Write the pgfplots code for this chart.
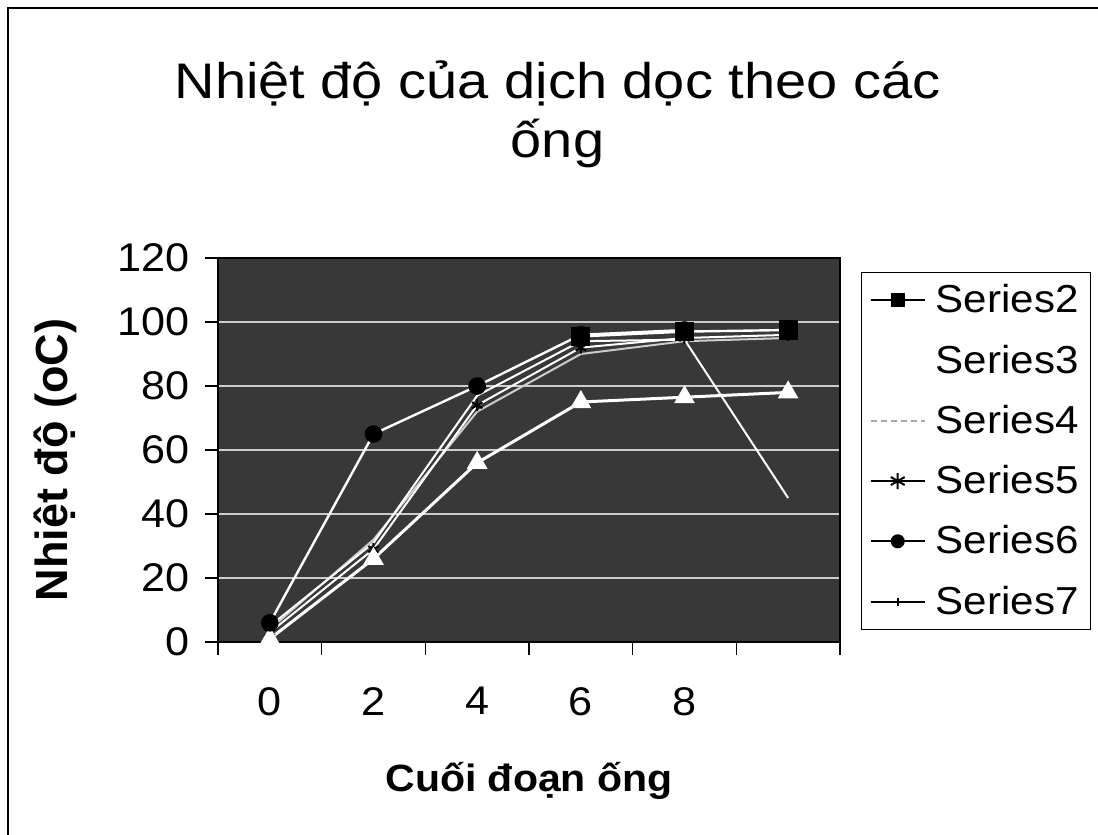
\documentclass[border=0pt]{standalone}
\usepackage{fontspec}
\setmainfont{Liberation Sans}
\newfontfamily\titlefont{Liberation Sans}[FakeStretch=1.12]
\newfontfamily\tickfont{Liberation Sans}[FakeStretch=1.08]
\newfontfamily\legfont{Liberation Sans}[FakeStretch=1.08]
\newfontfamily\xlabfont{Liberation Sans}[FakeStretch=1.08]
\usepackage{pgfplots}
\pgfplotsset{compat=1.18}
\usepackage{pgfplotstable}

\pgfplotstableread{
x s2 s3 s4 s5 s6 s7
0 nan 1 4 3 6 5
1 nan 26 32 29 65 31
2 nan 56 72 74 80 77
3 95.5 75 90 92 96 94
4 97 76.5 94 95 97.5 94.5
5 97.5 78 95 96 nan 45
}\datatable

\begin{document}
\begin{tikzpicture}
\path[use as bounding box] (0,0) rectangle (549pt,-417.5pt);
\fill[white] (0,0) rectangle (549pt,-417.5pt);
\draw[line width=0.8pt] (4pt,-417.5pt) -- (4pt,-4pt) -- (549pt,-4pt);
\node[anchor=base, font=\titlefont\fontsize{25}{30}\selectfont] at (278.75pt,-49pt) {Nhiệt độ của dịch dọc theo các};
\node[anchor=base, font=\titlefont\fontsize{25}{30}\selectfont] at (278.75pt,-78.5pt) {ống};
\begin{axis}[
  at={(109pt,-321pt)}, anchor=south west,
  scale only axis, width=311pt, height=192pt,
  xmin=-0.5, xmax=5.5, ymin=0, ymax=120,
  xtick={0,1,2,3,4}, xticklabels={0,2,4,6,8},
  major x tick style={draw=none},
  minor xtick={-0.5,0.5,...,5.5},
  ytick={0,20,...,120},
  tick align=outside, tick pos=left,
  minor tick length=6.5pt, major tick length=6.5pt,
  tick style={black, line width=0.6pt},
  axis line style={black, line width=0.8pt},
  ymajorgrids, major grid style={white!80!black, line width=0.8pt},
  axis background/.style={fill=black!78},
  tick label style={font=\tickfont\fontsize{20}{24}\selectfont},
  xticklabel style={yshift=-12.5pt},
  yticklabel style={xshift=-4pt},
  /pgf/number format/assume math mode=true,
  xlabel={Cuối đoạn ống}, ylabel={Nhiệt độ (oC)},
  xlabel style={font=\xlabfont\bfseries\fontsize{19}{23}\selectfont, at={(axis description cs:0.5,-0.3906)}, anchor=base},
  ylabel style={font=\bfseries\fontsize{22.5}{27}\selectfont, at={(axis description cs:-0.262,0.474)}, anchor=center},
  clip=false,
  legend style={at={(1.034,0.9635)}, anchor=north west, draw=black, line width=0.6pt,
    font=\legfont\fontsize{19.5}{23}\selectfont, row sep=10.5pt, inner xsep=4pt, inner ysep=4pt,
    /tikz/every odd column/.append style={column sep=3pt}},
  legend cell align=left,
  legend image code/.code={\draw[#1, mark repeat=2, mark phase=2] plot coordinates {(0pt,0pt) (13.5pt,0pt) (27pt,0pt)};},
]
\addlegendimage{black, line width=1pt, mark=square*, mark size=3pt}
\addlegendentry{Series2}
\addlegendimage{white, line width=1pt, mark=triangle*, mark size=3pt}
\addlegendentry{Series3}
\addlegendimage{black!35, line width=1pt, densely dashed}
\addlegendentry{Series4}
\addlegendimage{black, line width=1pt, mark=asterisk, mark size=4pt}
\addlegendentry{Series5}
\addlegendimage{black, line width=1pt, mark=*, mark size=3pt}
\addlegendentry{Series6}
\addlegendimage{black, line width=1pt, mark=|, mark size=2pt}
\addlegendentry{Series7}

\addplot[forget plot, white!80!black, line width=1pt] table[x=x,y=s4]{\datatable};
\addplot[forget plot, white, line width=1pt, mark=asterisk, mark size=3pt, mark options={black}] table[x=x,y=s5]{\datatable};
\addplot[forget plot, white, line width=1pt] table[x=x,y=s7]{\datatable};
\addplot[forget plot, white, line width=1.5pt, mark=triangle*, mark size=4.5pt, mark options={fill=white, draw=white}] table[x=x,y=s3]{\datatable};
\addplot[forget plot, white, line width=1.2pt, mark=*, mark size=3.8pt, mark options={fill=black, draw=black}] table[x=x,y=s6]{\datatable};
\addplot[forget plot, white, line width=1.2pt, mark=square*, mark size=4.2pt, mark options={fill=black, draw=black}] table[x=x,y=s2]{\datatable};
\end{axis}
\end{tikzpicture}
\end{document}
